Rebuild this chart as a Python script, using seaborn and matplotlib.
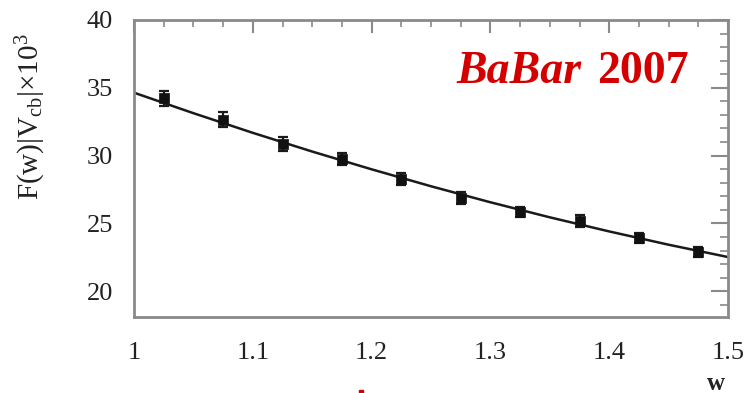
import numpy as np
import pandas as pd
import matplotlib
matplotlib.use("Agg")
import matplotlib.pyplot as plt
from matplotlib.ticker import MultipleLocator, FixedLocator
import seaborn as sns

# Measured form factor points (bin centres in w) with uncertainties
w_bins = [1.025, 1.075, 1.125, 1.175, 1.225, 1.275, 1.325, 1.375, 1.425, 1.475]
f_vals = [34.23, 32.63, 30.86, 29.75, 28.27, 26.87, 25.84, 25.18, 23.92, 22.89]
f_errs = [0.55, 0.55, 0.5, 0.45, 0.45, 0.45, 0.4, 0.45, 0.4, 0.4]

# Fitted curve sampled along w
fit_w = [1.0, 1.05, 1.1, 1.15, 1.2, 1.25, 1.3, 1.35, 1.4, 1.45, 1.5]
fit_f = [34.64, 33.13, 31.68, 30.30, 28.99, 27.74, 26.56, 25.45, 24.41, 23.43, 22.52]

x_ticks = [1.0, 1.1, 1.2, 1.3, 1.4, 1.5]
x_ticklabels = ["1", "1.1", "1.2", "1.3", "1.4", "1.5"]
y_ticks = [20, 25, 30, 35, 40]
y_ticklabels = ["20", "25", "30", "35", "40"]

sns.set_theme(style="white")
plt.rcParams["font.family"] = ["Liberation Serif", "DejaVu Serif"]
plt.rcParams["mathtext.fontset"] = "custom"
plt.rcParams["mathtext.rm"] = "Liberation Serif"
plt.rcParams["mathtext.it"] = "Liberation Serif:italic"

fig = plt.figure(figsize=(7.51, 3.93), dpi=100)
ax = fig.add_axes([134 / 751, 1 - 317 / 393, (728 - 134) / 751, (317 - 20) / 393])

points = pd.DataFrame({"w": w_bins, "F": f_vals, "err": f_errs})
curve = pd.DataFrame({"w": fit_w, "F": fit_f})

sns.lineplot(data=curve, x="w", y="F", ax=ax, color="#1a1a1a", linewidth=1.8,
             sort=False, zorder=2)
ax.errorbar(points["w"], points["F"], yerr=points["err"], fmt="none",
            ecolor="#1a1a1a", elinewidth=1.6, capsize=3.5, capthick=1.6, zorder=3)
sns.scatterplot(data=points, x="w", y="F", ax=ax, color="#111111", marker="s",
                s=45, edgecolor="#111111", linewidth=0.5, zorder=4)

ax.set_xlim(1.0, 1.5)
ax.set_ylim(18.1, 40)
ax.xaxis.set_major_locator(FixedLocator(x_ticks))
ax.set_xticklabels(x_ticklabels)
ax.xaxis.set_minor_locator(MultipleLocator(0.025))
ax.yaxis.set_major_locator(FixedLocator(y_ticks))
ax.set_yticklabels(y_ticklabels)
ax.yaxis.set_minor_locator(MultipleLocator(1))

ax.set_xlabel("")
ax.set_ylabel("")

for s in ax.spines.values():
    s.set_color("#8a8a8a")
    s.set_linewidth(2)

ax.tick_params(axis="both", which="both", direction="in", top=True, right=True,
               color="#8a8a8a", labelcolor="#222222", labelsize=19)
ax.tick_params(axis="y", which="major", length=12, width=1.5, pad=15)
ax.tick_params(axis="y", which="minor", length=6, width=1.2)
ax.tick_params(axis="x", which="major", length=9, width=1.5, pad=18)
ax.tick_params(axis="x", which="minor", length=5, width=1.2)

# Vertical axis title
fig.text(31 / 751, 1 - 117 / 393, r"F(w)|V$_{\mathrm{cb}}$|$\times$10$^3$", fontsize=21,
         color="#222222", rotation=90, ha="center", va="center")

# Experiment label
red = "#d40000"
fig.text(456 / 751, 1 - 83 / 393, "BaBar", fontsize=33, color=red,
         fontweight="bold", fontstyle="italic", va="baseline", ha="left")
fig.text(597 / 751, 1 - 83 / 393, "2007", fontsize=33, color=red,
         fontweight="bold", va="baseline", ha="left")

# Axis variable label under the right end of the x axis
fig.text(716 / 751, 1 - 383 / 393, "w", fontsize=18, color="#222222",
         fontweight="bold", ha="center", va="center")

# Small red mark at the bottom edge
fig.patches.append(plt.Rectangle((359 / 751, 0), 4 / 751, 3 / 393,
                                 transform=fig.transFigure, color=red, zorder=5))

fig.savefig("out.png", dpi=100)
